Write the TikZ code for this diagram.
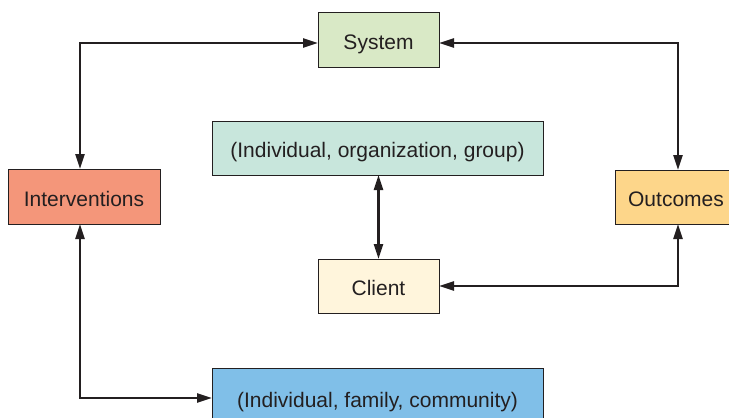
\documentclass[tikz,border=0pt]{standalone}
\usepackage{fontspec}
\setmainfont{Liberation Sans}
\usetikzlibrary{arrows.meta}

\definecolor{ink}{HTML}{231F20}
\definecolor{sysgreen}{HTML}{D9E9C6}
\definecolor{grpteal}{HTML}{C8E6DC}
\definecolor{intsalmon}{HTML}{F4967A}
\definecolor{outyellow}{HTML}{FDD68A}
\definecolor{clicream}{HTML}{FFF5DC}
\definecolor{famblue}{HTML}{80BFE8}

\tikzset{
  box/.style={draw=ink, line width=0.5pt, inner sep=0pt, outer sep=0pt,
    text=ink, text height=9.5pt, text depth=0pt,
    font=\fontsize{10.5}{12}\selectfont},
  link/.style={draw=ink, line width=1.3pt,
    {Triangle[length=7.5pt,width=4.5pt]}-{Triangle[length=7.5pt,width=4.5pt]}}
}

\begin{document}
\begin{tikzpicture}[x=0.5pt, y=-0.5pt]

    % Fix the frame of the picture
    \useasboundingbox (0,0) rectangle (729,418);

    % Draw the boxes
    \node[box, fill=sysgreen, minimum width=60.5pt, minimum height=27.5pt] (system) at (378.5,39.5) {System};
    \node[box, fill=grpteal, minimum width=165.5pt, minimum height=27pt] (group) at (377.5,148) {(Individual, organization, group)};
    \node[box, fill=intsalmon, minimum width=76pt, minimum height=27.5pt] (interv) at (84,196.5) {Interventions};
    \node[box, fill=outyellow, minimum width=61pt, minimum height=27pt] (outcomes) at (676,197) {Outcomes};
    \node[box, fill=clicream, minimum width=60.5pt, minimum height=27pt] (client) at (378.5,286) {Client};
    \node[box, fill=famblue, minimum width=165.5pt, minimum height=30pt] (family) at (377.5,398) {(Individual, family, community)};

    % Draw the links between the boxes
    \draw[link] ([xshift=-2pt]interv.north) |- ([yshift=-1.75pt]system.west);
    \draw[link] ([yshift=-1.75pt]system.east) -| ([xshift=1pt]outcomes.north);
    \draw[link] (group.south -| client.north) -- (client.north);
    \draw[link] (client.east) -| ([xshift=1pt]outcomes.south);
    \draw[link] ([xshift=-2pt]interv.south) |- (family.west);

\end{tikzpicture}
\end{document}
